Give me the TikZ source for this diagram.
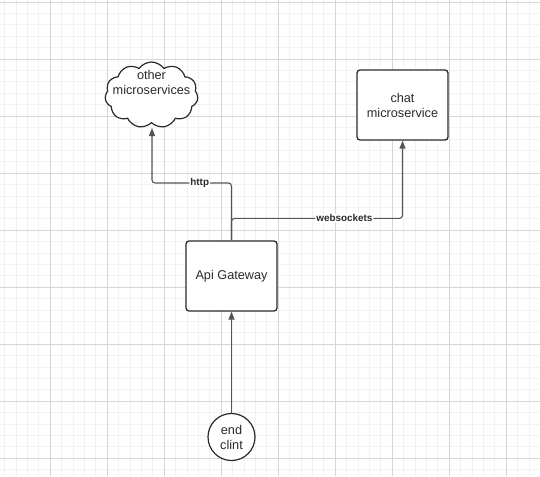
\documentclass[tikz,border=0pt]{standalone}
\usepackage{fontspec}
\setmainfont{Liberation Sans}
\usetikzlibrary{arrows.meta,shapes.symbols}
\definecolor{gmajor}{HTML}{D6D6D6}
\definecolor{gminor}{HTML}{F2F2F2}
\definecolor{ink}{HTML}{2A2A2A}
\definecolor{wire}{HTML}{555555}
\begin{document}
\begin{tikzpicture}[x=1pt,y=-1pt,
  box/.style={draw=ink,line width=1.3pt,rounded corners=3pt,fill=white,
    minimum width=91pt,minimum height=70pt,inner sep=0pt,align=center,
    font=\fontsize{12.7}{15}\selectfont,text=ink},
  wirestyle/.style={draw=wire,line width=1.1pt,rounded corners=3pt,
    -{Triangle[width=6pt,length=8pt]}},
  lbl/.style={fill=white,inner sep=1pt,font=\fontsize{9.9}{11}\selectfont\bfseries,text=ink},
  txt/.style={font=\fontsize{12.7}{15}\selectfont,text=ink,align=center,inner sep=0pt}]
\useasboundingbox (0,0) rectangle (540,476);
\fill[white] (0,0) rectangle (540,476);
% grid
\foreach \i in {0,...,48} {
  \draw[gminor,line width=0.6pt] ({-7+11.4*\i},0) -- ({-7+11.4*\i},476);
}
\foreach \i in {0,...,42} {
  \draw[gminor,line width=0.6pt] (0,{2+11.4*\i}) -- (540,{2+11.4*\i});
}
\foreach \i in {0,...,10} {
  \draw[gmajor,line width=0.8pt] ({-7+57*\i},0) -- ({-7+57*\i},476);
}
\foreach \i in {0,...,9} {
  \draw[gmajor,line width=0.8pt] (0,{2+57*\i}) -- (540,{2+57*\i});
}
% nodes
\node[cloud,draw=ink,line width=1.2pt,fill=white,cloud puffs=11,cloud puff arc=110,
  aspect=1.5,minimum width=93pt,minimum height=66pt,inner sep=0pt] (cloud) at (151.5,95) {};
\node[txt] (cloudtxt) at (151.5,82) {other\\microservices};
\node[box] (chat) at (402.5,105) {chat\\microservice};
\node[box] (api) at (231.5,276) {Api Gateway};
\node[circle,draw=ink,line width=1.2pt,fill=white,minimum size=47pt,inner sep=0pt,
  align=center,font=\fontsize{12.7}{15}\selectfont,text=ink] (client) at (231.5,437) {end\\clint};
\coordinate (cloudin) at (152,128);
% connectors
\draw[wirestyle] (client.north) -- (api.south);
\draw[wirestyle] (api.north) |- (152,183) node[lbl,pos=0.7] {http} -- (cloudin);
\draw[wirestyle] (api.north) -- ++(0,-22) -| (chat.south) node[lbl,pos=0.33] {websockets};
\end{tikzpicture}
\end{document}
